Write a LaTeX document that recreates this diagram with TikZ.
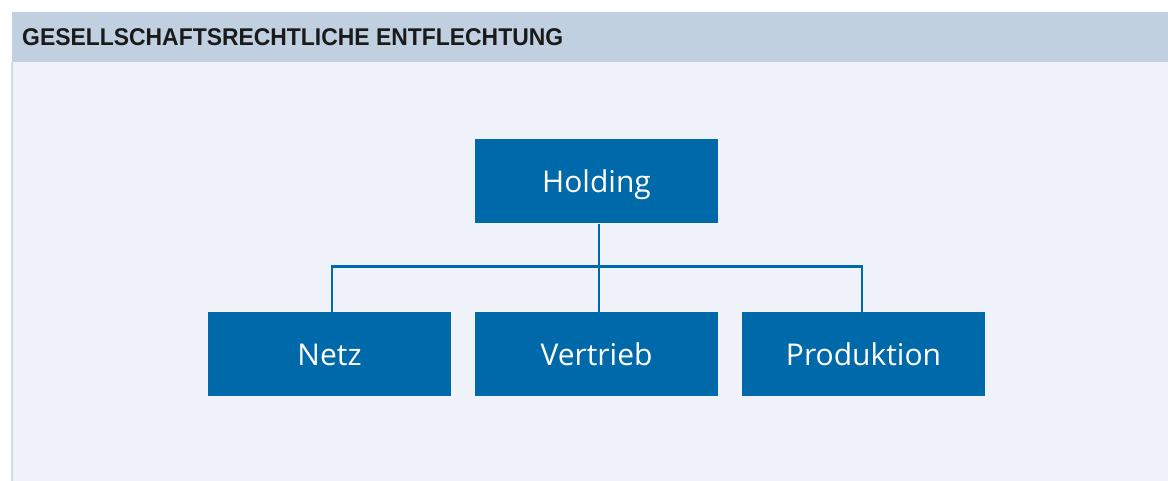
\documentclass[tikz,border=0pt]{standalone}
\usepackage{fontspec}
\newfontfamily\headfont{Liberation Sans}
\newfontfamily\boxfont{Open Sans}
\definecolor{boxblue}{HTML}{0069AA}
\definecolor{headbg}{HTML}{C0D0E0}
\definecolor{bodybg}{HTML}{EFF3F9}
\definecolor{leftline}{HTML}{CFDCEA}
\definecolor{headtext}{HTML}{1A1A1A}
\tikzset{
  orgbox/.style={fill=boxblue, draw=none, minimum width=243pt, minimum height=84pt,
    inner sep=0pt, text height=22pt, text depth=0pt, text=white,
    font=\boxfont\fontsize{30}{36}\selectfont},
  orgline/.style={draw=boxblue, line width=2.2pt}
}
\begin{document}
\begin{tikzpicture}[x=1pt,y=-1pt]
\useasboundingbox (0,0) rectangle (1168,481);
\fill[white] (0,0) rectangle (1168,481);
\fill[bodybg] (12,62) rectangle (1168,481);
\fill[headbg] (12,12) rectangle (1168,62);
\fill[leftline] (11,62) rectangle (13,481);
\node[anchor=base west, inner sep=0pt, text=headtext] (title) at (22,45.5)
  {\scalebox{0.975}[1.03]{\headfont\bfseries\fontsize{23.5}{28}\selectfont GESELLSCHAFTSRECHTLICHE ENTFLECHTUNG}};
\node[orgbox] (holding) at (596.5,181.5) {Holding};
\node[orgbox] (netz) at (329.5,354) {Netz};
\node[orgbox] (vertrieb) at (596.5,354) {Vertrieb};
\node[orgbox] (produktion) at (863.5,354) {Produktion};
\coordinate (hs) at ([xshift=2.5pt]holding.south);
\coordinate (ns) at ([xshift=2.5pt]netz.north);
\coordinate (ps) at ([xshift=-1.5pt]produktion.north);
\coordinate (junc) at (hs |- 0,266.5);
\draw[orgline] (hs) -- (hs |- vertrieb.north);
\draw[orgline] (ns) |- (junc) -| (ps);
\end{tikzpicture}
\end{document}
